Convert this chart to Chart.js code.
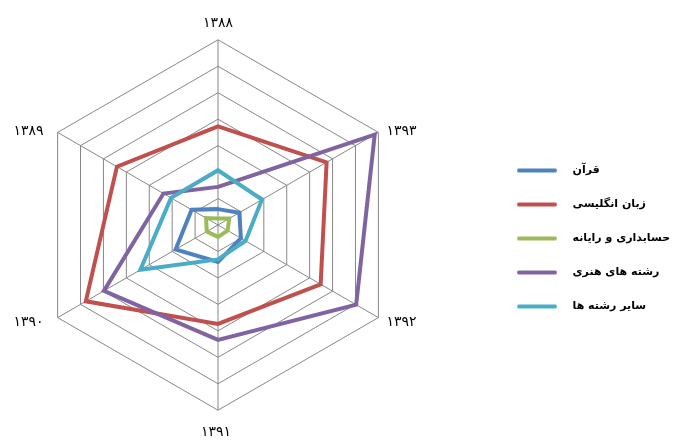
<!DOCTYPE html>
<html>
<head>
<meta charset="utf-8">
<script src="https://cdn.jsdelivr.net/npm/chart.js@4"></script>
<style>
  html, body { margin: 0; padding: 0; background: #fff; }
</style>
</head>
<body>
<canvas id="radar-chart" width="678" height="440"></canvas>
<script>
// years go round clockwise from the top, as in the picture
var years = ['۱۳۸۸', '۱۳۹۳', '۱۳۹۲', '۱۳۹۱', '۱۳۹۰', '۱۳۸۹'];
var seriesNames = ['قرآن', 'زبان انگلیسی', 'حسابداری و رایانه', 'رشته های هنری', 'سایر رشته ها'];
var seriesColors = ['#4f81bd', '#c0504d', '#9bbb59', '#8064a2', '#4bacc6'];

var quran = [0.6, 0.93, 1.0, 1.4, 1.85, 1.15];
var english = [3.73, 4.74, 4.48, 3.74, 5.77, 4.41];
var accounting = [0.25, 0.49, 0.42, 0.45, 0.49, 0.52];
var arts = [1.44, 6.84, 6.03, 4.34, 4.98, 2.38];
var others = [2.07, 1.92, 1.2, 1.3, 3.39, 2.05];

var scaleMax = 7;
var scaleStep = 1;

var seriesValues = [quran, english, accounting, arts, others];

// nudge for each year label (px), side labels sit level with their corner
var labelShiftX = [0, 2, 2, -2, -8, -8];
var labelShiftY = [-1, 11, -7, 7, -7, 11];

// short line with a gap after it, used as the legend marker
function legendLine(color) {
    var c = document.createElement('canvas');
    c.width = 50;
    c.height = 6;
    var g = c.getContext('2d');
    g.strokeStyle = color;
    g.lineWidth = 4;
    g.lineCap = 'round';
    g.beginPath();
    g.moveTo(2, 3);
    g.lineTo(38, 3);
    g.stroke();
    return c;
}

// keep the radar on the left and the legend where it sits in the picture
var legendSlot = {
    id: 'legendSlot',
    beforeLayout: function (chart) {
        var lg = chart.legend;
        if (!lg || lg._slot) return;
        lg._slot = true;
        var fit = lg.fit;
        lg.fit = function () { fit.call(this); this.width = 241; };
    },
    afterLayout: function (chart) {
        var lg = chart.legend;
        lg.left += 57; lg.right += 57;
        lg.top += 13; lg.bottom += 13;
    }
};

var datasets = seriesNames.map(function (name, i) {
    return {
        label: name,
        data: seriesValues[i],
        borderColor: seriesColors[i],
        backgroundColor: seriesColors[i],
        borderWidth: 4,
        borderCapStyle: 'round',
        fill: false,
        pointRadius: 0,
        pointHoverRadius: 0,
        order: seriesNames.length - i
    };
});

var radarChart = new Chart(document.getElementById('radar-chart'), {
    type: 'radar',
    data: {
        labels: years,
        datasets: datasets
    },
    options: {
        responsive: false,
        animation: false,
        layout: { padding: { top: 16, bottom: 5, left: 0, right: 0 } },
        scales: {
            r: {
                min: 0,
                max: scaleMax,
                ticks: { display: false, stepSize: scaleStep },
                grid: { color: '#878787', lineWidth: 1 },
                angleLines: { color: '#878787', lineWidth: 1 },
                pointLabels: {
                    color: '#000',
                    padding: 7,
                    font: { family: 'DejaVu Sans', size: 14 }
                },
                afterFit: function (scale) {
                    (scale._pointLabelItems || []).forEach(function (item, i) {
                        item.x += labelShiftX[i];
                        item.y += labelShiftY[i];
                    });
                }
            }
        },
        plugins: {
            tooltip: { enabled: false },
            legend: {
                position: 'right',
                labels: {
                    usePointStyle: true,
                    pointStyleWidth: 50,
                    padding: 23,
                    color: '#000',
                    font: { family: 'DejaVu Sans', size: 11, weight: 'bold' },
                    sort: function (a, b) { return a.datasetIndex - b.datasetIndex; },
                    generateLabels: function (chart) {
                        var items = Chart.defaults.plugins.legend.labels.generateLabels(chart);
                        items.forEach(function (it) { it.pointStyle = legendLine(it.strokeStyle); });
                        return items;
                    }
                }
            }
        }
    },
    plugins: [legendSlot]
});
</script>
</body>
</html>
